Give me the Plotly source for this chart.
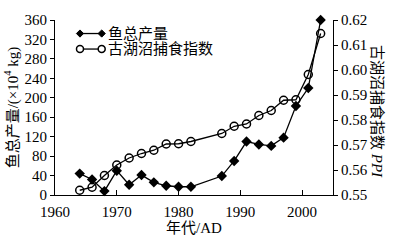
import plotly.graph_objects as go

years = [1964, 1966, 1968, 1970, 1972, 1974, 1976, 1978, 1980, 1982,
         1987, 1989, 1991, 1993, 1995, 1997, 1999, 2001, 2003]
fish = [44, 32, 8, 50, 21, 41, 26, 19, 17, 17,
        39, 70, 110, 104, 101, 118, 183, 220, 360]
ppi = [0.5519, 0.5531, 0.5578, 0.5620, 0.5648, 0.5666, 0.5679, 0.5704, 0.5705, 0.5714,
       0.5746, 0.5775, 0.5784, 0.5818, 0.5838, 0.5879, 0.5881, 0.5982, 0.6146]
series_names = ["鱼总产量", "古湖沼捕食指数"]

FONT = "Liberation Serif, Noto Sans CJK SC, serif"

fig = go.Figure()
fig.add_trace(go.Scatter(
    x=years, y=fish, name=series_names[0], mode="lines+markers",
    line=dict(color="black", width=1.3),
    marker=dict(symbol="diamond", size=8, color="black"),
    yaxis="y", showlegend=False, cliponaxis=False))
fig.add_trace(go.Scatter(
    x=years, y=ppi, name=series_names[1], mode="lines+markers",
    line=dict(color="black", width=1.3),
    marker=dict(symbol="circle-open", size=8, color="black", line=dict(width=1.5)),
    yaxis="y2", showlegend=False, cliponaxis=False))

# hand-drawn legend (line with a marker at each end, like the reference)
shapes = []
annotations = []
leg_x0, leg_x1, leg_tx = 0.0899, 0.168, 0.1835
leg_rows = [0.9227, 0.834]
for i, (name, ly) in enumerate(zip(series_names, leg_rows)):
    shapes.append(dict(type="line", xref="paper", yref="paper",
                       x0=leg_x0, x1=leg_x1, y0=ly, y1=ly,
                       line=dict(color="black", width=1.3)))
    for lx in (leg_x0, leg_x1):
        if i == 0:
            shapes.append(dict(type="path", xref="paper", yref="paper",
                               xsizemode="pixel", ysizemode="pixel",
                               xanchor=lx, yanchor=ly,
                               path="M -3.6 0 L 0 3.6 L 3.6 0 L 0 -3.6 Z",
                               fillcolor="black", line=dict(color="black", width=1)))
        else:
            shapes.append(dict(type="circle", xref="paper", yref="paper",
                               xsizemode="pixel", ysizemode="pixel",
                               xanchor=lx, yanchor=ly,
                               x0=-3.5, x1=3.5, y0=-3.5, y1=3.5,
                               fillcolor="white", line=dict(color="black", width=1.5)))
    annotations.append(dict(text=name, xref="paper", yref="paper",
                            x=leg_tx, y=ly, xanchor="left", yanchor="middle",
                            showarrow=False, font=dict(size=15)))

annotations.append(dict(text="古湖沼捕食指数 <i>PPI</i>", xref="paper", yref="paper",
                        x=1.0, xshift=44, y=0.48, textangle=90, showarrow=False,
                        font=dict(size=15), xanchor="center", yanchor="middle"))

fig.update_layout(
    width=398, height=245,
    margin=dict(l=55, r=65, t=15, b=45),
    paper_bgcolor="white", plot_bgcolor="white",
    font=dict(family=FONT, size=15, color="black"),
    showlegend=False,
    xaxis=dict(range=[1960, 2005], dtick=10, tick0=1960,
               showline=True, linecolor="black", linewidth=1.2,
               ticks="inside", ticklen=5, tickcolor="black",
               ticklabelstandoff=3,
               showgrid=False, zeroline=False,
               title=dict(text="年代/AD", font=dict(size=15), standoff=2)),
    yaxis=dict(range=[0, 360], dtick=40, tick0=0,
               showline=True, linecolor="black", linewidth=1.2,
               ticks="outside", ticklen=4, tickcolor="black",
               showgrid=False, zeroline=False,
               title=dict(text="鱼总产量/(×10<sup>4</sup> kg)", font=dict(size=15), standoff=2)),
    yaxis2=dict(range=[0.55, 0.62], dtick=0.01, tick0=0.55, overlaying="y", side="right",
                showline=True, linecolor="black", linewidth=1.2,
                ticks="outside", ticklen=4, tickcolor="black",
                tickformat=".2f",
                showgrid=False, zeroline=False),
    shapes=shapes,
    annotations=annotations,
)

fig.write_html("out.html")
